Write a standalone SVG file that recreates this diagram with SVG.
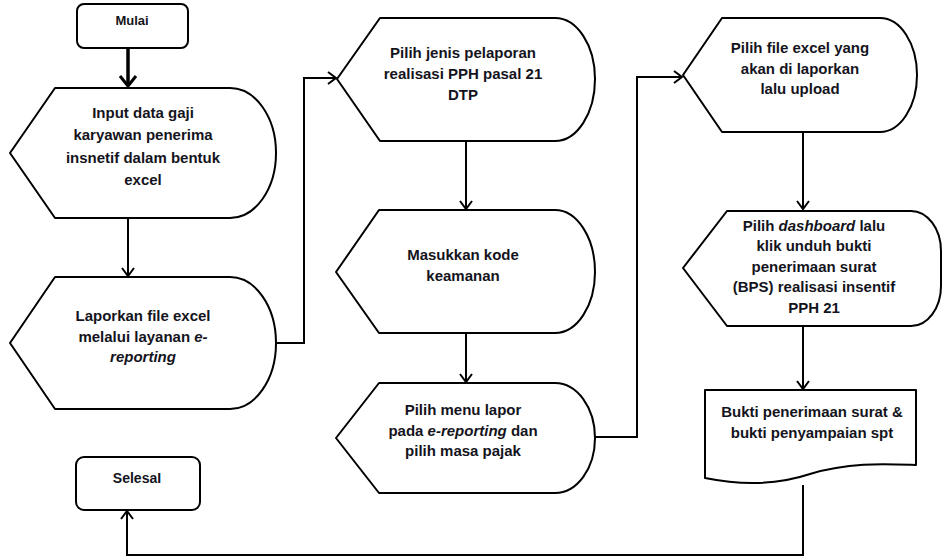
<svg xmlns="http://www.w3.org/2000/svg" width="942" height="557" viewBox="0 0 942 557">
<style>
.s{fill:#fff;stroke:#000;stroke-width:2;stroke-linejoin:round}
.c{fill:none;stroke:#000;stroke-width:2}
.t{font-family:"Liberation Sans",Arial,sans-serif;font-weight:bold;font-size:15px;fill:#141420;text-anchor:middle}
.i{font-style:italic}
</style>
<defs>
<marker id="ah" markerWidth="16" markerHeight="16" refX="13" refY="8" orient="auto" markerUnits="userSpaceOnUse">
<path d="M5,2 L13,8 L5,14" fill="none" stroke="#000" stroke-width="2"/>
</marker>
<marker id="ahb" markerWidth="20" markerHeight="20" refX="16" refY="10" orient="auto" markerUnits="userSpaceOnUse">
<path d="M6,2 L16,10 L6,18" fill="none" stroke="#000" stroke-width="3"/>
</marker>
</defs>
<rect width="942" height="557" fill="#fff"/>
<g id="connectors">
<path class="c" d="M128,48 V86" style="stroke-width:3.5" marker-end="url(#ahb)"/>
<path class="c" d="M128,218 V276" marker-end="url(#ah)"/>
<path class="c" d="M276,343 H304 V78 H336" marker-end="url(#ah)"/>
<path class="c" d="M466,141 V209" marker-end="url(#ah)"/>
<path class="c" d="M466,333 V382" marker-end="url(#ah)"/>
<path class="c" d="M595,437 H637 V77 H682" marker-end="url(#ah)"/>
<path class="c" d="M803,132 V209" marker-end="url(#ah)"/>
<path class="c" d="M803,326 V389" marker-end="url(#ah)"/>
<path class="c" d="M803,485 V555 H127 V511" marker-end="url(#ah)"/>
</g>
<g id="mulai">
<rect class="s" x="77" y="4" width="111" height="44" rx="7"/>
<text class="t" x="132" y="25" style="font-size:13px">Mulai</text>
</g>
<g id="input">
<path class="s" d="M10,153 L55,88 H230 A46,65 0 0 1 276,153 A46,65 0 0 1 230,218 H55 Z"/>
<text class="t" x="143" y="118">Input data gaji</text>
<text class="t" x="143" y="140">karyawan penerima</text>
<text class="t" x="143" y="163">insnetif dalam bentuk</text>
<text class="t" x="143" y="185">excel</text>
</g>
<g id="laporkan">
<path class="s" d="M10,343 L55,277 H230 A46,66 0 0 1 276,343 A46,66 0 0 1 230,409 H55 Z"/>
<text class="t" x="143" y="321">Laporkan file excel</text>
<text class="t" x="143" y="342">melalui layanan <tspan class="i">e-</tspan></text>
<text class="t i" x="143" y="362">reporting</text>
</g>
<g id="selesai">
<rect class="s" x="76" y="457" width="124" height="53" rx="8"/>
<text class="t" x="137" y="483" style="font-size:14px">SelesaI</text>
</g>
<g id="pilih-jenis">
<path class="s" d="M337,79 L380,18 H555 A40,61 0 0 1 595,79 A40,62 0 0 1 555,141 H380 Z"/>
<text class="t" x="463" y="58">Pilih jenis pelaporan</text>
<text class="t" x="463" y="79">realisasi PPH pasal 21</text>
<text class="t" x="463" y="100">DTP</text>
</g>
<g id="masukkan">
<path class="s" d="M336,272 L379,210 H555 A40,62 0 0 1 595,272 A40,61 0 0 1 555,333 H379 Z"/>
<text class="t" x="463" y="260">Masukkan kode</text>
<text class="t" x="463" y="281">keamanan</text>
</g>
<g id="pilih-menu">
<path class="s" d="M336,438 L379,383 H555 A40,55 0 0 1 595,438 A40,55 0 0 1 555,493 H379 Z"/>
<text class="t" x="463" y="415">Pilih menu lapor</text>
<text class="t" x="463" y="436">pada <tspan class="i">e-reporting</tspan> dan</text>
<text class="t" x="463" y="456">pilih masa pajak</text>
</g>
<g id="pilih-file">
<path class="s" d="M683,75 L722,18 H880 A37,57 0 0 1 917,75 A37,57 0 0 1 880,132 H722 Z"/>
<text class="t" x="800" y="53">Pilih file excel yang</text>
<text class="t" x="800" y="74">akan di laporkan</text>
<text class="t" x="800" y="94">lalu upload</text>
</g>
<g id="dashboard">
<path class="s" d="M683,268 L727,211 H911 A30,40 0 0 1 941,251 V286 A30,40 0 0 1 911,326 H727 Z"/>
<text class="t" x="814" y="231">Pilih <tspan class="i">dashboard</tspan> lalu</text>
<text class="t" x="814" y="251">klik unduh bukti</text>
<text class="t" x="814" y="272">penerimaan surat</text>
<text class="t" x="814" y="292">(BPS) realisasi insentif</text>
<text class="t" x="814" y="313">PPH 21</text>
</g>
<g id="bukti">
<path class="s" d="M705,390 H916 V465 C885,464 850,462 810,474 C780,484 745,486 705,478 Z"/>
<text class="t" x="812" y="417">Bukti penerimaan surat &amp;</text>
<text class="t" x="812" y="438">bukti penyampaian spt</text>
</g>
</svg>
